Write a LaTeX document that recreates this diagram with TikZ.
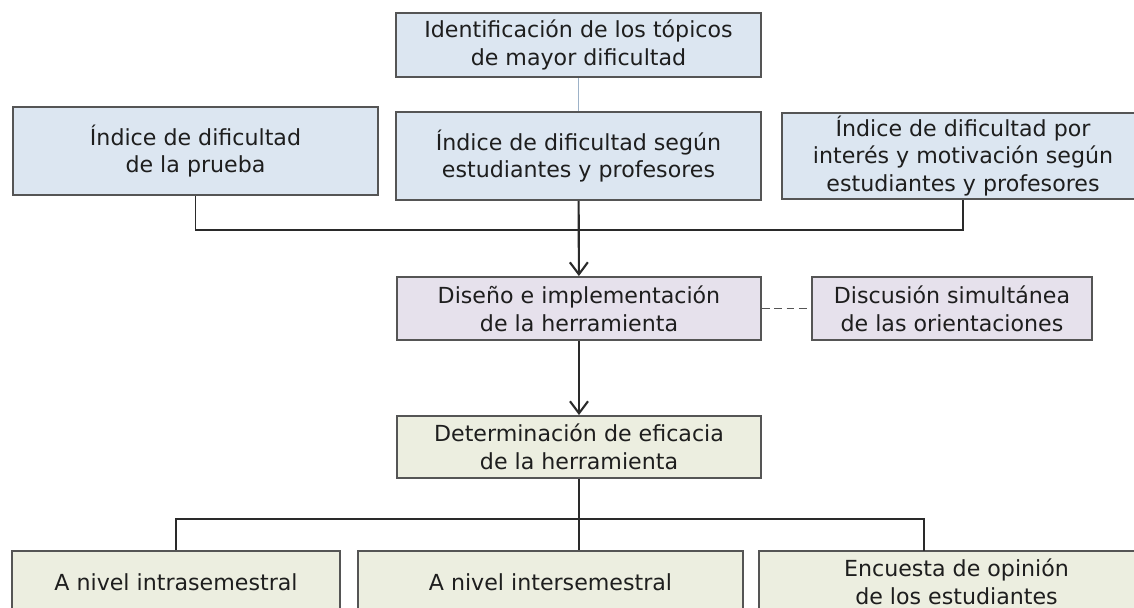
\documentclass[tikz,border=0pt]{standalone}
\usepackage{fontspec}
\setmainfont{DejaVu Sans}
\usepackage{xcolor}
\usetikzlibrary{shapes,arrows,arrows.meta,positioning,calc}

\definecolor{boxblue}{HTML}{DCE6F1}
\definecolor{boxlila}{HTML}{E6E1EC}
\definecolor{boxverde}{HTML}{ECEEE0}
\definecolor{borde}{HTML}{555555}
\definecolor{linea}{HTML}{2A2A2A}
\definecolor{lineaclara}{HTML}{9DB2C8}
\definecolor{texto}{HTML}{1E1E1E}

\begin{document}
\begin{tikzpicture}[x=0.02cm, y=-0.02cm]
  \tikzstyle{caja}=[rectangle, draw=borde, line width=1.1pt, align=center, inner sep=0pt, text=texto, font=\fontsize{12.6}{15.8}\selectfont]
  \tikzstyle{azul}=[caja, fill=boxblue]
  \tikzstyle{lila}=[caja, fill=boxlila, minimum height=1.26cm]
  \tikzstyle{verde}=[caja, fill=boxverde, minimum height=1.24cm]
  \tikzstyle{linea}=[draw=linea, line width=1pt]

  \useasboundingbox (0,0) rectangle (1134,608);
  \clip (0,0) rectangle (1134,608);
  \fill[white] (0,0) rectangle (1134,608);

  % Identificacion de topicos
  \node[azul, minimum width=7.3cm, minimum height=1.28cm] (idt) at (578.5,45) {Identificación de los tópicos\\de mayor dificultad};
  \node[azul, minimum width=7.3cm, minimum height=1.76cm] (sgn) at (578.5,156) {Índice de dificultad según\\estudiantes y profesores};
  \node[azul, minimum width=7.3cm, minimum height=1.76cm] (prb) at (195.5,151) {Índice de dificultad\\de la prueba};
  \node[azul, minimum width=7.24cm, minimum height=1.72cm] (mot) at (963,156) {Índice de dificultad por\\interés y motivación según\\estudiantes y profesores};

  % Herramienta
  \node[lila, minimum width=7.28cm] (dis) at (579,308.5) {Diseño e implementación\\de la herramienta};
  \node[lila, minimum width=5.6cm] (dsc) at (952,308.5) {Discusión simultánea\\de las orientaciones};
  \node[verde, minimum width=7.28cm] (efc) at (579,447) {Determinación de eficacia\\de la herramienta};

  % Niveles
  \node[verde, minimum width=6.56cm] (lv1) at (176,582) {A nivel intrasemestral};
  \node[verde, minimum width=7.7cm] (lv2) at (550.5,582) {A nivel intersemestral};
  \node[verde, minimum width=7.9cm] (lv3) at (956.5,582) {Encuesta de opinión\\de los estudiantes};

  % Conexiones
  \coordinate (uj) at (579,230);
  \coordinate (bj) at (578,519);
  \coordinate (r3) at (924,551);
  \draw[draw=lineaclara, line width=0.9pt] (idt) -- (sgn);
  \draw[linea] (prb.south) |- (uj) -| (mot.south);
  \draw[linea, line width=1.2pt, -{Straight Barb[length=2.4mm, width=3.6mm]}] (sgn) -- (dis);
  \draw[linea, line width=1.2pt, -{Straight Barb[length=2.4mm, width=3.6mm]}] (dis) -- (efc);
  \draw[draw=borde, line width=1.1pt, dash pattern=on 4.5pt off 2.5pt] (dis) -- (dsc);
  \draw[linea] (efc.south) -- (lv2.north -| efc.south);
  \draw[linea] (lv1.north) |- (bj) -| (r3);
\end{tikzpicture}
\end{document}
